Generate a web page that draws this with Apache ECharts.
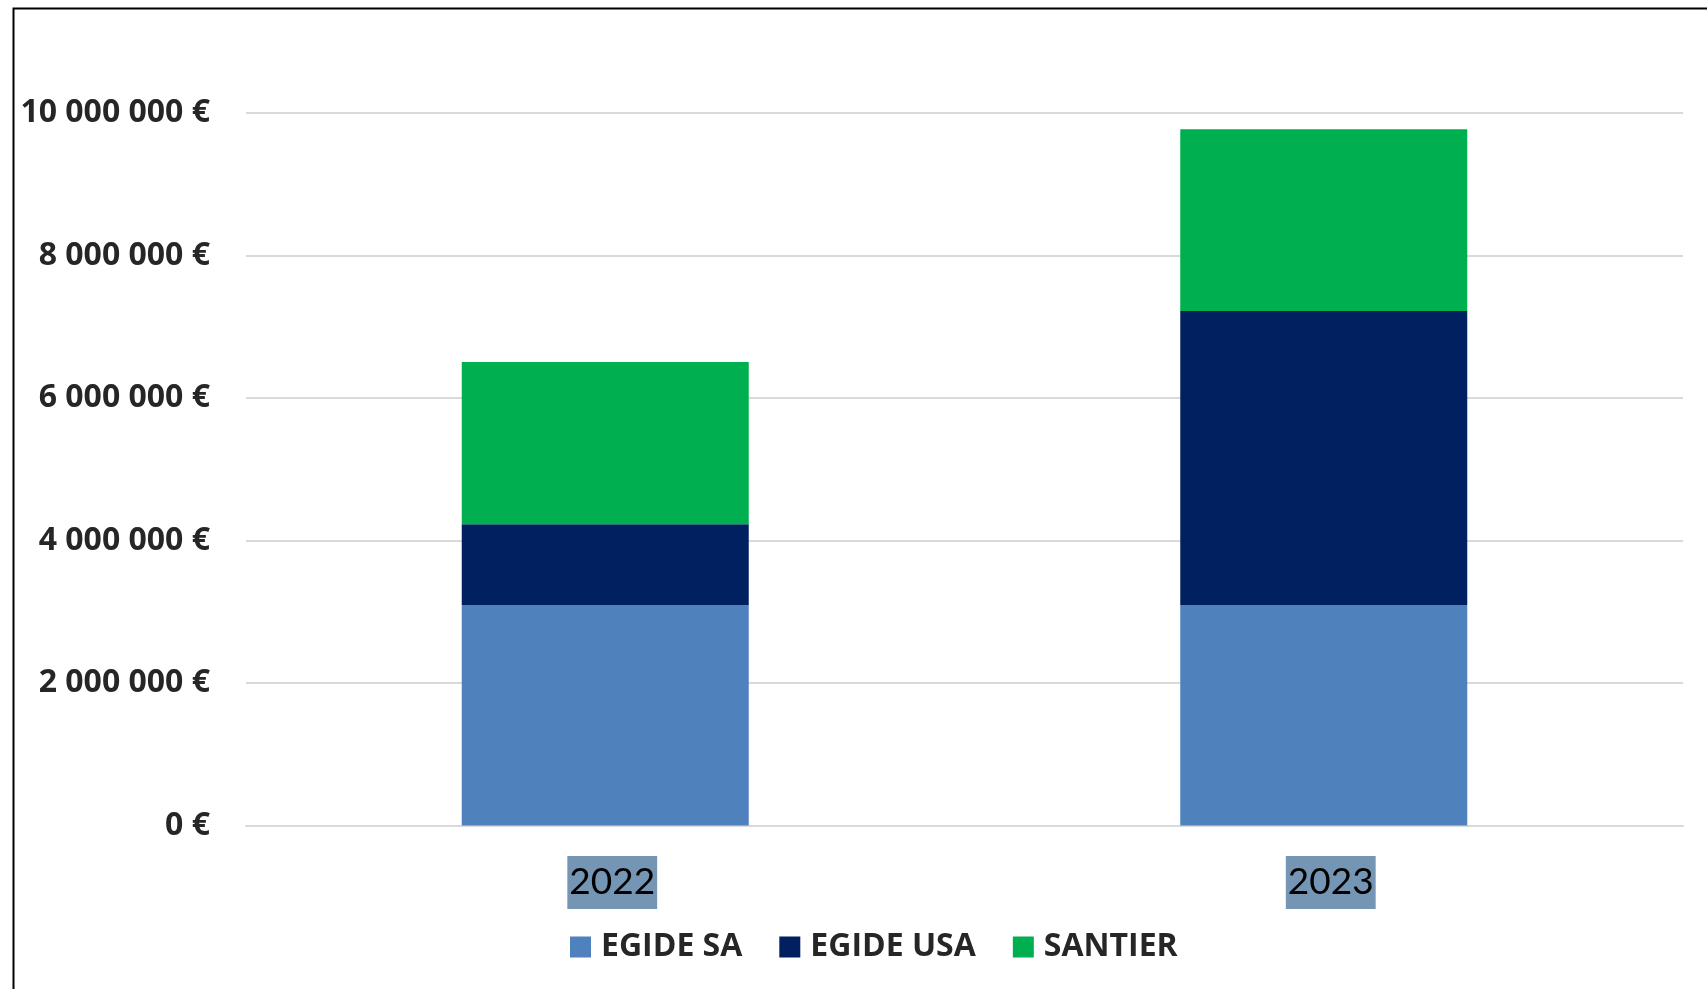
<!DOCTYPE html>
<html>
<head>
<meta charset="utf-8">
<script src="https://cdn.jsdelivr.net/npm/echarts@6/dist/echarts.min.js"></script>
<style>
html,body{margin:0;padding:0;background:#fff;}
#chart{width:1707px;height:989px;}
</style>
</head>
<body>
<div id="chart"></div>
<script>
const categories = ['2022', '2023'];
const seriesNames = ['EGIDE SA', 'EGIDE USA', 'SANTIER'];
const egideSA = [3095000, 3095000];
const egideUSA = [1132000, 4126000];
const santier = [2278000, 2550000];
const yTicks = [0, 2000000, 4000000, 6000000, 8000000, 10000000];
const colors = ['#4F81BD', '#002060', '#00B050'];

function fmt(v) {
  return String(v).replace(/\B(?=(\d{3})+(?!\d))/g, ' ') + ' €';
}

const chart = echarts.init(document.getElementById('chart'), null, {renderer: 'canvas'});
const seriesData = [egideSA, egideUSA, santier];
chart.setOption({
  animation: false,
  color: colors,
  grid: {left: 246, right: 24, top: 113, bottom: 163.5, containLabel: false},
  graphic: [{
    type: 'rect',
    shape: {x: 13.5, y: 8.5, width: 1800, height: 1100},
    style: {fill: 'none', stroke: '#000', lineWidth: 2},
    silent: true
  }],
  legend: {
    left: 570, top: 931, padding: 0,
    itemWidth: 21, itemHeight: 21, itemGap: 37,
    icon: 'rect',
    data: seriesNames,
    textStyle: {fontFamily: 'Open Sans', fontWeight: 'bold', fontSize: 32, lineHeight: 32, color: '#262626', padding: [0, 0, 0, 5]}
  },
  xAxis: {
    type: 'category',
    data: categories,
    axisTick: {show: false},
    axisLine: {lineStyle: {color: '#D9D9D9', width: 2}},
    axisLabel: {
      margin: 37,
      formatter: function (v) { return '{s|}{b|' + v + '}'; },
      rich: {
        s: {width: 14},
        b: {
          fontFamily: 'Lato',
          fontSize: 37,
          lineHeight: 40,
          color: '#000',
          backgroundColor: '#7595B5',
          padding: [8, 2, 8, 2]
        }
      }
    }
  },
  yAxis: {
    type: 'value',
    min: yTicks[0],
    max: yTicks[yTicks.length - 1],
    interval: yTicks[1] - yTicks[0],
    axisLine: {show: false},
    axisTick: {show: false},
    splitLine: {lineStyle: {color: '#D9D9D9', width: 2}},
    axisLabel: {
      margin: 36,
      fontFamily: 'Open Sans',
      fontWeight: 'bold',
      fontSize: 32,
      color: '#262626',
      formatter: fmt
    }
  },
  series: seriesNames.map((n, i) => ({
    name: n,
    type: 'bar',
    stack: 'total',
    barWidth: 287,
    data: seriesData[i]
  }))
});
</script>
</body>
</html>
